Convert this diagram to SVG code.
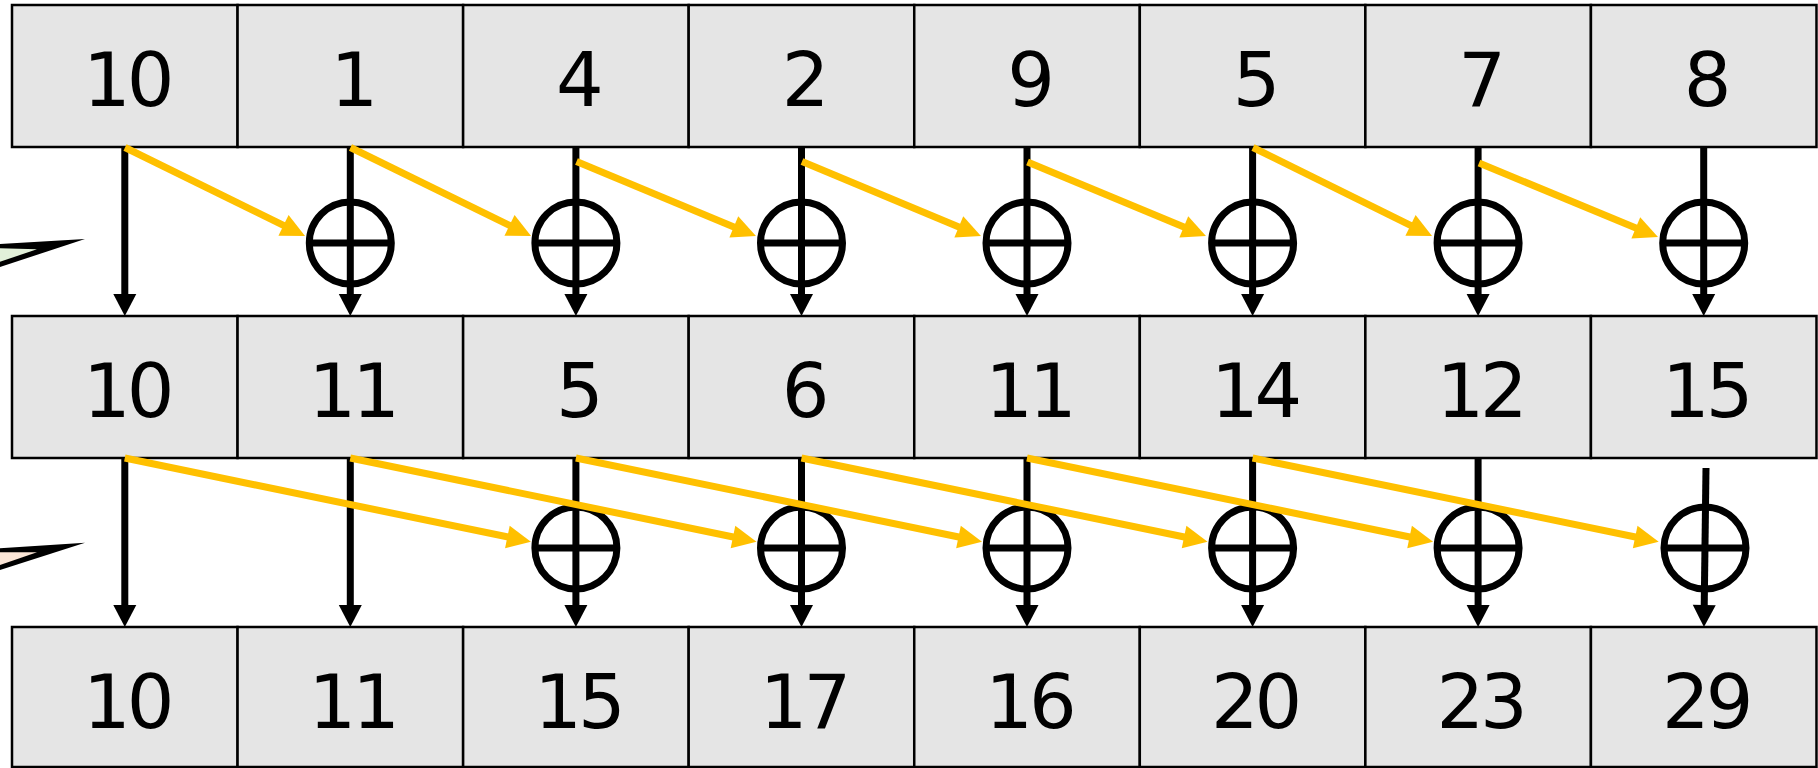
<svg xmlns="http://www.w3.org/2000/svg" width="1818" height="768" viewBox="0 0 1818 768">
<style>
.cell{fill:#E5E5E5;stroke:#000;stroke-width:2.5}
.num{font-family:"DejaVu Sans",sans-serif;font-size:75px;fill:#000;text-anchor:middle;letter-spacing:-4px}
.op{stroke:#000;stroke-width:7;fill:none}
.y{stroke:#FFC000;stroke-width:7;fill:none;marker-end:url(#ya)}
.vb{stroke:#000;stroke-width:7;fill:none;marker-end:url(#ba)}
</style>
<defs>
<marker id="ba" markerUnits="userSpaceOnUse" markerWidth="22" markerHeight="23" refX="2" refY="11.5" orient="auto" overflow="visible"><path d="M0,0 L22,11.5 L0,23 Z" fill="#000"/></marker>
<marker id="ya" markerUnits="userSpaceOnUse" markerWidth="24" markerHeight="23" refX="4" refY="11.5" orient="auto" overflow="visible"><path d="M0,0 L24,11.5 L0,23 Z" fill="#FFC000"/></marker>
<g id="plus"><circle cx="0" cy="0" r="41" class="op"/><line x1="-41" y1="0" x2="41" y2="0" class="op"/></g>
</defs>
<rect width="1818" height="768" fill="#fff"/>
<g id="pointers">
<polygon points="0,244 85,239 0,267" fill="#000"/>
<polygon points="0,248.3 37,249.3 0,261.7" fill="#E2F0D9"/>
<polygon points="0,548.3 85,542.7 0,570" fill="#000"/>
<polygon points="0,552.3 37,552.3 0,565" fill="#FBE5D6"/>
</g>
<g id="row1">
<g id="r1c0"><rect class="cell" x="12" y="5" width="225.56" height="142"/><text class="num" x="126.8" y="106">10</text></g>
<g id="r1c1"><rect class="cell" x="237.56" y="5" width="225.56" height="142"/><text class="num" x="352.3" y="106">1</text></g>
<g id="r1c2"><rect class="cell" x="463.12" y="5" width="225.56" height="142"/><text class="num" x="577.9" y="106">4</text></g>
<g id="r1c3"><rect class="cell" x="688.68" y="5" width="225.56" height="142"/><text class="num" x="803.5" y="106">2</text></g>
<g id="r1c4"><rect class="cell" x="914.24" y="5" width="225.56" height="142"/><text class="num" x="1029" y="106">9</text></g>
<g id="r1c5"><rect class="cell" x="1139.8" y="5" width="225.56" height="142"/><text class="num" x="1254.6" y="106">5</text></g>
<g id="r1c6"><rect class="cell" x="1365.36" y="5" width="225.56" height="142"/><text class="num" x="1480.1" y="106">7</text></g>
<g id="r1c7"><rect class="cell" x="1590.92" y="5" width="225.56" height="142"/><text class="num" x="1705.7" y="106">8</text></g>
</g>
<g id="row2">
<g id="r2c0"><rect class="cell" x="12" y="316" width="225.56" height="142"/><text class="num" x="126.8" y="417">10</text></g>
<g id="r2c1"><rect class="cell" x="237.56" y="316" width="225.56" height="142"/><text class="num" x="352.3" y="417">11</text></g>
<g id="r2c2"><rect class="cell" x="463.12" y="316" width="225.56" height="142"/><text class="num" x="577.9" y="417">5</text></g>
<g id="r2c3"><rect class="cell" x="688.68" y="316" width="225.56" height="142"/><text class="num" x="803.5" y="417">6</text></g>
<g id="r2c4"><rect class="cell" x="914.24" y="316" width="225.56" height="142"/><text class="num" x="1029" y="417">11</text></g>
<g id="r2c5"><rect class="cell" x="1139.8" y="316" width="225.56" height="142"/><text class="num" x="1254.6" y="417">14</text></g>
<g id="r2c6"><rect class="cell" x="1365.36" y="316" width="225.56" height="142"/><text class="num" x="1480.1" y="417">12</text></g>
<g id="r2c7"><rect class="cell" x="1590.92" y="316" width="225.56" height="142"/><text class="num" x="1705.7" y="417">15</text></g>
</g>
<g id="row3">
<g id="r3c0"><rect class="cell" x="12" y="627" width="225.56" height="140"/><text class="num" x="126.8" y="728">10</text></g>
<g id="r3c1"><rect class="cell" x="237.56" y="627" width="225.56" height="140"/><text class="num" x="352.3" y="728">11</text></g>
<g id="r3c2"><rect class="cell" x="463.12" y="627" width="225.56" height="140"/><text class="num" x="577.9" y="728">15</text></g>
<g id="r3c3"><rect class="cell" x="688.68" y="627" width="225.56" height="140"/><text class="num" x="803.5" y="728">17</text></g>
<g id="r3c4"><rect class="cell" x="914.24" y="627" width="225.56" height="140"/><text class="num" x="1029" y="728">16</text></g>
<g id="r3c5"><rect class="cell" x="1139.8" y="627" width="225.56" height="140"/><text class="num" x="1254.6" y="728">20</text></g>
<g id="r3c6"><rect class="cell" x="1365.36" y="627" width="225.56" height="140"/><text class="num" x="1480.1" y="728">23</text></g>
<g id="r3c7"><rect class="cell" x="1590.92" y="627" width="225.56" height="140"/><text class="num" x="1705.7" y="728">29</text></g>
</g>
<g id="adders">
<g id="add1-1"><use href="#plus" x="350.3" y="243"/></g>
<g id="add1-2"><use href="#plus" x="575.9" y="243"/></g>
<g id="add1-3"><use href="#plus" x="801.5" y="243"/></g>
<g id="add1-4"><use href="#plus" x="1027" y="243"/></g>
<g id="add1-5"><use href="#plus" x="1252.6" y="243"/></g>
<g id="add1-6"><use href="#plus" x="1478.1" y="243"/></g>
<g id="add1-7"><use href="#plus" x="1703.7" y="243"/></g>
<g id="add2-2"><use href="#plus" x="575.9" y="548"/></g>
<g id="add2-3"><use href="#plus" x="801.5" y="548"/></g>
<g id="add2-4"><use href="#plus" x="1027" y="548"/></g>
<g id="add2-5"><use href="#plus" x="1252.6" y="548"/></g>
<g id="add2-6"><use href="#plus" x="1478.1" y="548"/></g>
<g id="add2-7"><use href="#plus" x="1705" y="548"/></g>
</g>
<g id="connectors">
<line class="vb" x1="124.8" y1="147" x2="124.8" y2="296"/>
<line class="vb" x1="350.3" y1="147" x2="350.3" y2="296"/>
<line class="vb" x1="575.9" y1="147" x2="575.9" y2="296"/>
<line class="vb" x1="801.5" y1="147" x2="801.5" y2="296"/>
<line class="vb" x1="1027" y1="147" x2="1027" y2="296"/>
<line class="vb" x1="1252.6" y1="147" x2="1252.6" y2="296"/>
<line class="vb" x1="1478.1" y1="147" x2="1478.1" y2="296"/>
<line class="vb" x1="1703.7" y1="147" x2="1703.7" y2="296"/>
<line class="vb" x1="124.8" y1="458" x2="124.8" y2="607"/>
<line class="vb" x1="350.3" y1="458" x2="350.3" y2="607"/>
<line class="vb" x1="575.9" y1="458" x2="575.9" y2="607"/>
<line class="vb" x1="801.5" y1="458" x2="801.5" y2="607"/>
<line class="vb" x1="1027" y1="458" x2="1027" y2="607"/>
<line class="vb" x1="1252.6" y1="458" x2="1252.6" y2="607"/>
<line class="vb" x1="1478.1" y1="458" x2="1478.1" y2="607"/>
<line class="vb" x1="1706" y1="468" x2="1704.2" y2="607"/>
<line class="y" x1="125" y1="147.5" x2="287.1" y2="227.2"/>
<line class="y" x1="350.5" y1="147.5" x2="513.1" y2="227.2"/>
<line class="y" x1="576.5" y1="161.5" x2="737.5" y2="228.4"/>
<line class="y" x1="802" y1="161.5" x2="962.5" y2="228.4"/>
<line class="y" x1="1027.5" y1="162" x2="1187.5" y2="228.4"/>
<line class="y" x1="1253" y1="147.5" x2="1414.1" y2="227.2"/>
<line class="y" x1="1479" y1="163" x2="1639.5" y2="229.4"/>
<line class="y" x1="124.8" y1="458" x2="511.3" y2="537.7"/>
<line class="y" x1="350.3" y1="458" x2="736.9" y2="537.7"/>
<line class="y" x1="575.9" y1="458" x2="962.4" y2="537.7"/>
<line class="y" x1="801.5" y1="458" x2="1188" y2="537.7"/>
<line class="y" x1="1027" y1="458" x2="1413.5" y2="537.7"/>
<line class="y" x1="1252.6" y1="458" x2="1639.1" y2="537.7"/>
</g>
</svg>
